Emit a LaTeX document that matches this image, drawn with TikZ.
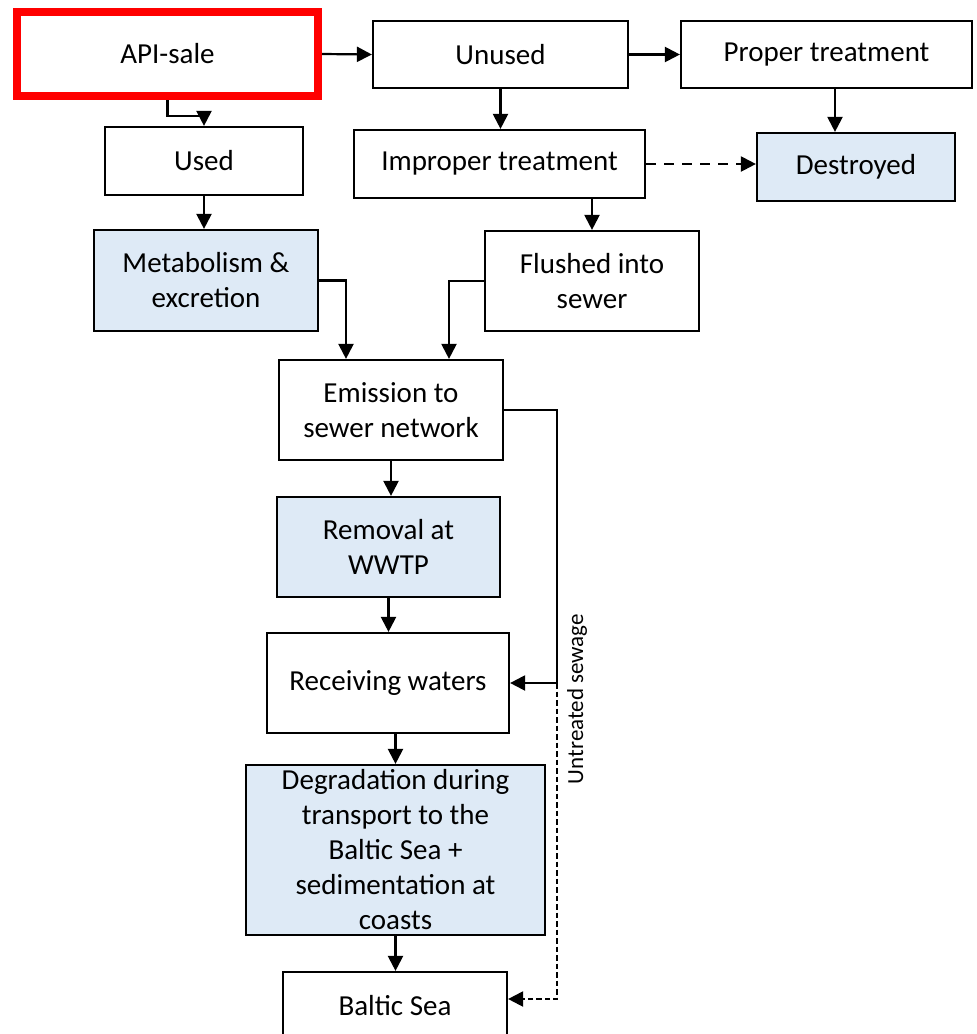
\documentclass[tikz,border=0pt]{standalone}
\usepackage{fontspec}
\setmainfont{Carlito}
\usetikzlibrary{arrows.meta}
\definecolor{boxblue}{RGB}{222,234,246}
\definecolor{apired}{RGB}{255,0,0}
\tikzset{
  box/.style={draw=black, line width=2.2pt, fill=white, inner sep=0pt, align=center,
    font=\fontsize{29}{35}\selectfont},
  bluebox/.style={box, fill=boxblue},
  arr/.style={line width=2.2pt, -{Triangle[length=15pt,width=15pt]}},
  longdash/.style={arr, dash pattern=on 10pt off 8pt},
  shortdash/.style={arr, dash pattern=on 5.5pt off 3pt},
}
\begin{document}
\begin{tikzpicture}[x=1pt,y=-1pt]
\useasboundingbox (0,0) rectangle (977,1034);
\clip (0,0) rectangle (977,1034);
% nodes
\node[box, draw=apired, line width=8pt, minimum width=301pt, minimum height=84pt] (api) at (167.5,54) {API-sale};
\node[box, minimum width=255pt, minimum height=67pt] (unused) at (500.5,54.5) {Unused};
\node[box, minimum width=291pt, minimum height=67pt] (proper) at (826.5,54.5) {Proper treatment};
\node[box, minimum width=198pt, minimum height=68pt] (used) at (204,161) {Used};
\node[box, minimum width=291pt, minimum height=68pt] (improper) at (499.5,164) {Improper treatment};
\node[bluebox, minimum width=198pt, minimum height=68pt] (destroyed) at (856,167) {Destroyed};
\node[bluebox, minimum width=224pt, minimum height=101pt] (metab) at (206,280.5) {Metabolism \&\\excretion};
\node[box, minimum width=214pt, minimum height=100pt] (flushed) at (592,281) {Flushed into\\sewer};
\node[box, minimum width=224pt, minimum height=100pt] (emission) at (391,410) {Emission to\\sewer network};
\node[bluebox, minimum width=223pt, minimum height=100pt] (removal) at (388.5,547) {Removal at\\WWTP};
\node[box, minimum width=242pt, minimum height=100pt] (receiving) at (388,683) {Receiving waters};
\node[bluebox, minimum width=299pt, minimum height=170pt] (degr) at (395.5,850) {Degradation during\\transport to the\\Baltic Sea +\\sedimentation at\\coasts};
\node[box, minimum width=224pt, minimum height=68pt] (baltic) at (395,1006) {Baltic Sea};
\node[rotate=90, inner sep=0pt, font=\fontsize{23}{27}\selectfont] (lbl) at (577,699) {Untreated sewage};
\coordinate (bend) at (557,683);
% connectors
\draw[arr] (api.east) -- (unused.west);
\draw[arr] (unused.east) -- (proper.west);
\draw[arr] (api.south) -- ++(0,16) -| (used.north);
\draw[arr] (unused.south) -- (unused.south |- improper.north);
\draw[arr] ([xshift=8.5pt]proper.south) -- ([xshift=8.5pt]proper.south |- destroyed.north);
\draw[longdash] (improper.east) -- (improper.east -| destroyed.west);
\draw[arr] (improper.south -| flushed.north) -- (flushed.north);
\draw[arr] (used.south) -- (used.south |- metab.north);
\draw[arr] (metab.east) -| ([xshift=-45pt]emission.north);
\draw[arr] (flushed.west) -| ([xshift=58pt]emission.north);
\draw[arr] (emission.south) -- (emission.south |- removal.north);
\draw[arr] (removal.south) -- (removal.south |- receiving.north);
\draw[arr] (receiving.south -| degr.north) -- (degr.north);
\draw[arr] (degr.south) -- (degr.south |- baltic.north);
\draw[arr] (emission.east) -| (bend) -- (receiving.east);
\draw[shortdash] (bend) |- ([yshift=7pt]baltic.east);
\end{tikzpicture}
\end{document}
